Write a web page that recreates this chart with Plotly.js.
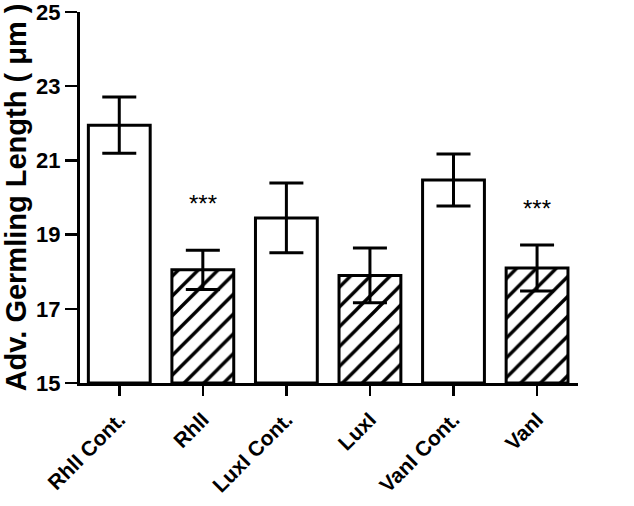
<!DOCTYPE html>
<html>
<head>
<meta charset="utf-8">
<script src="https://cdn.plot.ly/plotly-3.0.1.min.js"></script>
<style>html,body{margin:0;padding:0;background:#fff;}#chart{width:634px;height:506px;}</style>
</head>
<body>
<div id="chart"></div>
<script>
const categories = ["RhlI Cont.", "RhlI", "LuxI Cont.", "LuxI", "VanI Cont.", "VanI"];
const means = [21.95, 18.05, 19.45, 17.9, 20.47, 18.1];
const sems = [0.76, 0.53, 0.94, 0.74, 0.7, 0.62];
const treated = [false, true, false, true, false, true];
const significance = ["", "***", "", "", "", "***"];
const significanceY = [null, 19.8, null, null, null, 19.68];
const yTicks = [15, 17, 19, 21, 23, 25];

const font = "Liberation Sans, Arial, sans-serif";

const trace = {
  type: "bar",
  x: categories,
  y: means.map(v => v - 15),
  base: 15,
  width: 0.74,
  marker: {
    color: "white",
    line: {color: "black", width: 3},
    pattern: {
      shape: treated.map(t => t ? "/" : ""),
      fgcolor: "black",
      bgcolor: "white",
      size: 14,
      solidity: 0.24
    }
  },
  error_y: {type: "data", array: sems, visible: true, color: "black", thickness: 3, width: 17},
  hoverinfo: "none"
};

const annotations = [];
significance.forEach((s, i) => {
  if (s) {
    annotations.push({
      x: categories[i], y: significanceY[i], yref: "y", xref: "x",
      text: s, showarrow: false, yshift: 1,
      font: {family: font, size: 24, color: "black"}
    });
  }
});

const layout = {
  width: 634, height: 506,
  margin: {l: 80, r: 56, t: 12, b: 123},
  paper_bgcolor: "white", plot_bgcolor: "white",
  showlegend: false,
  xaxis: {
    range: [-0.47, 5.49],
    showline: true, linecolor: "black", linewidth: 3,
    ticks: "outside", ticklen: 10, tickwidth: 2.5, tickcolor: "black",
    tickangle: -45,
    ticklabelstandoff: 3,
    tickfont: {family: font, size: 21, color: "black", weight: "bold"},
    ticklabeloverflow: "allow",
    showgrid: false, zeroline: false, fixedrange: true
  },
  yaxis: {
    range: [15, 25],
    tickvals: yTicks,
    ticktext: yTicks.map(String),
    showline: true, linecolor: "black", linewidth: 3,
    ticks: "outside", ticklen: 12, tickwidth: 2.5, tickcolor: "black",
    tickfont: {family: font, size: 22, color: "black", weight: "bold"},
    ticklabeloverflow: "allow",
    title: {text: "Adv. Germling Length ( μm )", font: {family: font, size: 29, color: "black", weight: "bold"}, standoff: 5},
    showgrid: false, zeroline: false, fixedrange: true
  },
  annotations: annotations
};

Plotly.newPlot("chart", [trace], layout, {displayModeBar: false, staticPlot: true});
</script>
</body>
</html>
